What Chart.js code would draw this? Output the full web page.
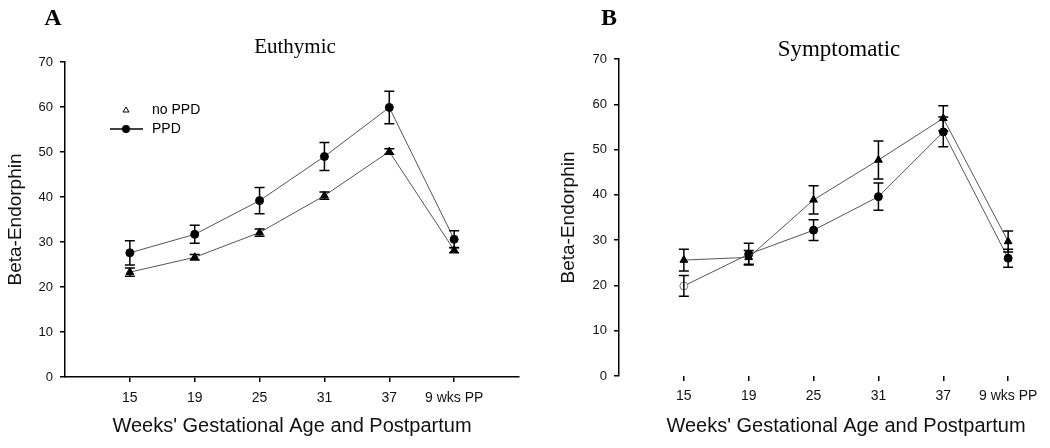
<!DOCTYPE html>
<html>
<head>
<meta charset="utf-8">
<script src="https://cdn.jsdelivr.net/npm/chart.js@4.4.1/dist/chart.umd.min.js"></script>
<style>
  html, body { margin: 0; padding: 0; background: #fff; overflow: hidden; }
  #wrap { position: relative; width: 1050px; height: 448px; overflow: hidden; }
  canvas { position: absolute; top: 0; }
  #left { left: 0; }
  #right { left: 525px; }
</style>
</head>
<body>
<div id="wrap">
  <canvas id="left" width="525" height="448"></canvas>
  <canvas id="right" width="560" height="448"></canvas>
</div>
<script>
// weeks' gestational age / postpartum categories
const xLabels = ['15', '19', '25', '31', '37', '9 wks PP'];

// panel A - euthymic
const euthNoPPD    = [23.3, 26.6, 32.1, 40.3, 50.1, 28.2];
const euthNoPPDErr = [0.9, 0.6, 0.8, 0.8, 0.6, 0.6];
const euthPPD      = [27.6, 31.7, 39.2, 49.0, 59.9, 30.6];
const euthPPDErr   = [2.7, 2.0, 2.9, 3.1, 3.6, 1.9];

// panel B - symptomatic
const sympNoPPD    = [25.6, 26.2, 38.9, 47.7, 56.9, 29.7];
const sympNoPPDErr = [2.4, 1.5, 3.1, 4.2, 2.8, 2.3];
const sympPPD      = [19.9, 26.9, 32.2, 39.6, 53.9, 26.0];
const sympPPDErr   = [2.3, 2.4, 2.3, 3.0, 3.3, 2.0];

const yTicks = [0, 10, 20, 30, 40, 50, 60, 70];

const toPoints = arr => arr.map((v, i) => ({ x: i, y: v }));

// vertical error bars with caps
const errorBars = {
  id: 'errorBars',
  afterDatasetsDraw(chart) {
    const ctx = chart.ctx;
    const xs = chart.scales.x, ys = chart.scales.y;
    ctx.save();
    ctx.strokeStyle = '#000';
    ctx.lineWidth = 1.5;
    chart.data.datasets.forEach(ds => {
      if (!ds.errors) return;
      ds.data.forEach((p, i) => {
        const e = ds.errors[i];
        const x = xs.getPixelForValue(p.x);
        const y1 = ys.getPixelForValue(p.y + e);
        const y2 = ys.getPixelForValue(p.y - e);
        ctx.beginPath();
        ctx.moveTo(x, y1); ctx.lineTo(x, y2);
        ctx.moveTo(x - 5, y1); ctx.lineTo(x + 5, y1);
        ctx.moveTo(x - 5, y2); ctx.lineTo(x + 5, y2);
        ctx.stroke();
      });
    });
    ctx.restore();
  }
};

// panel letter, panel title and in-plot legend
const panelText = {
  id: 'panelText',
  afterDraw(chart, args, opts) {
    const ctx = chart.ctx;
    ctx.save();
    ctx.fillStyle = '#000';
    ctx.textAlign = 'center';
    ctx.textBaseline = 'middle';
    ctx.font = 'bold 24px "Liberation Serif", "Times New Roman", serif';
    ctx.fillText(opts.letter, opts.lx, 19);
    ctx.font = opts.tsize + 'px "Liberation Serif", "Times New Roman", serif';
    ctx.fillText(opts.title, opts.tx, opts.ty);
    if (opts.legend) {
      const lx = 126;
      // no PPD: small open triangle
      ctx.strokeStyle = '#000';
      ctx.lineWidth = 1;
      ctx.beginPath();
      ctx.moveTo(lx, 107); ctx.lineTo(lx + 3, 112); ctx.lineTo(lx - 3, 112); ctx.closePath();
      ctx.stroke();
      // PPD: line with filled circle
      ctx.lineWidth = 1.5;
      ctx.beginPath();
      ctx.moveTo(110, 129); ctx.lineTo(143, 129);
      ctx.stroke();
      ctx.beginPath();
      ctx.arc(lx, 129, 4, 0, Math.PI * 2);
      ctx.fill();
      ctx.font = '14px "Liberation Sans", Arial, sans-serif';
      ctx.textAlign = 'left';
      ctx.fillText('no PPD', 152, 110);
      ctx.fillText('PPD', 152, 129);
    }
    ctx.restore();
  }
};

function makeChart(id, noPPD, noErr, ppd, ppdErr, cfg) {
  const lineCol = '#555';
  return new Chart(document.getElementById(id), {
    type: 'line',
    data: {
      datasets: [
        {
          label: 'no PPD',
          data: toPoints(noPPD),
          errors: noErr,
          borderColor: lineCol,
          borderWidth: 1,
          pointStyle: 'triangle',
          pointRadius: 4.5,
          pointBackgroundColor: '#000',
          pointBorderColor: '#000',
          tension: 0
        },
        {
          label: 'PPD',
          data: toPoints(ppd),
          errors: ppdErr,
          borderColor: lineCol,
          borderWidth: 1,
          pointStyle: 'circle',
          pointRadius: 4,
          pointBackgroundColor: cfg.ppdFill || '#000',
          pointBorderColor: cfg.ppdBorder || '#000',
          tension: 0
        }
      ]
    },
    options: {
      responsive: false,
      animation: false,
      layout: { padding: { left: cfg.padLeft, right: cfg.padRight, top: cfg.top, bottom: 0 } },
      plugins: {
        legend: { display: false },
        tooltip: { enabled: false },
        panelText: cfg.text
      },
      scales: {
        x: {
          type: 'linear',
          min: -1,
          max: 6,
          afterBuildTicks: s => { s.ticks = xLabels.map((l, i) => ({ value: i })); },
          afterFit: s => { s.height = 448 - cfg.bottom; },
          ticks: {
            callback: v => xLabels[v],
            color: '#111',
            font: { family: '"Liberation Sans", Arial, sans-serif', size: 14 },
            padding: cfg.xTickPad,
            maxRotation: 0
          },
          grid: { drawOnChartArea: false, drawTicks: true, tickLength: 5, color: '#000', lineWidth: 1.5 },
          border: { display: cfg.xBorder, color: '#000', width: 1.5 },
          title: {
            display: true,
            text: "Weeks' Gestational Age and Postpartum",
            color: '#111',
            font: { family: '"Liberation Sans", Arial, sans-serif', size: 20 },
            padding: { top: 6, bottom: 10 }
          }
        },
        y: {
          min: 0,
          max: 70,
          afterBuildTicks: s => { s.ticks = yTicks.map(v => ({ value: v })); },
          afterFit: s => { s.width = cfg.yWidth; },
          ticks: {
            color: '#111',
            font: { family: '"Liberation Sans", Arial, sans-serif', size: 13 },
            padding: 7
          },
          grid: { drawOnChartArea: false, drawTicks: true, tickLength: 5, color: '#000', lineWidth: 1.5 },
          border: { display: true, color: '#000', width: 1.5 },
          title: {
            display: true,
            text: 'Beta-Endorphin',
            color: '#111',
            font: { family: '"Liberation Sans", Arial, sans-serif', size: 19 },
            padding: { top: 4, bottom: 4 }
          }
        }
      }
    },
    plugins: [errorBars, panelText]
  });
}

makeChart('left', euthNoPPD, euthNoPPDErr, euthPPD, euthPPDErr, {
  padLeft: 0, padRight: 6, top: 62, bottom: 377, yWidth: 65,
  xBorder: true, xTickPad: 8,
  text: { letter: 'A', lx: 53, title: 'Euthymic', tsize: 21, tx: 295, ty: 47, legend: true }
});

makeChart('right', sympNoPPD, sympNoPPDErr, sympPPD, sympPPDErr, {
  padLeft: 28, padRight: 12, top: 59, bottom: 376, yWidth: 66,
  xBorder: false, xTickPad: 7,
  ppdFill: sympPPD.map((v, i) => i === 0 ? '#fff' : '#000'),
  ppdBorder: sympPPD.map((v, i) => i === 0 ? '#777' : '#000'),
  text: { letter: 'B', lx: 84, title: 'Symptomatic', tsize: 23, tx: 314, ty: 50, legend: false }
});
</script>
</body>
</html>
